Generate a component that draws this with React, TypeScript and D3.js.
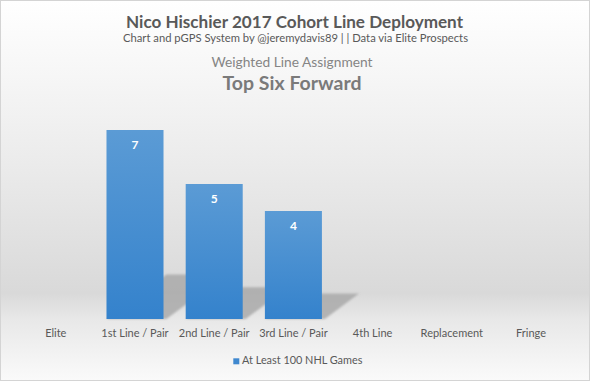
import React from "react";
import * as d3 from "d3";

const categories = ["Elite", "1st Line / Pair", "2nd Line / Pair", "3rd Line / Pair", "4th Line", "Replacement", "Fringe"];
const values = [0, 7, 5, 4, 0, 0, 0];
const seriesName = "At Least 100 NHL Games";
const title = "Nico Hischier 2017 Cohort Line Deployment";
const subtitle = "Chart and pGPS System by @jeremydavis89 | | Data via Elite Prospects";
const axisTitle = "Weighted Line Assignment";
const playerType = "Top Six Forward";

const W = 590;
const H = 381;
const FONT = "Lato, 'Open Sans', 'DejaVu Sans', sans-serif";

export default function App() {
  const x = d3.scaleBand<string>().domain(categories).range([16.2, 570.6]).paddingInner(0.28).paddingOuter(0.14);
  const y = d3.scaleLinear().domain([0, 7]).range([319, 130]);
  const bw = x.bandwidth();
  const base = y(0);

  const shadowPath = (cat: string, v: number) => {
    const x0 = x(cat)!;
    const h = base - y(v);
    const sh = h * 0.235;
    const dx = sh * 1.35;
    const sw = bw * 1.05;
    const p = d3.path();
    p.moveTo(x0, base);
    p.lineTo(x0 + sw, base);
    p.lineTo(x0 + dx + sw, base - sh);
    p.lineTo(x0 + dx, base - sh);
    p.closePath();
    return p.toString();
  };

  return (
    <svg width={W} height={H} style={{ position: "fixed", left: 0, top: 0, display: "block" }} fontFamily={FONT}>
      <defs>
        <linearGradient id="bg" x1="0" y1="0" x2="0" y2="1">
          <stop offset="0" stopColor="#ffffff" />
          <stop offset="0.2" stopColor="#f6f6f6" />
          <stop offset="0.45" stopColor="#eaeaea" />
          <stop offset="0.77" stopColor="#d9d9d9" />
          <stop offset="0.84" stopColor="#e8e8e8" />
          <stop offset="1" stopColor="#fafafa" />
        </linearGradient>
        <linearGradient id="bar" x1="0" y1="0" x2="0" y2="1">
          <stop offset="0" stopColor="#5b9bd5" />
          <stop offset="1" stopColor="#3482cc" />
        </linearGradient>
        <filter id="blur" x="-20%" y="-20%" width="140%" height="140%">
          <feGaussianBlur stdDeviation="1.2" />
        </filter>
      </defs>
      <rect x={0.5} y={0.5} width={W - 1} height={H - 1} fill="url(#bg)" stroke="#d4d4d4" />

      <text x={294.5} y={27.7} textAnchor="middle" fontSize={17} fontWeight="bold" fill="#595959" textLength={337} lengthAdjust="spacingAndGlyphs">{title}</text>
      <text x={295.5} y={42.3} textAnchor="middle" fontSize={10.5} fill="#595959" textLength={345} lengthAdjust="spacingAndGlyphs">{subtitle}</text>
      <text x={292} y={67.3} textAnchor="middle" fontSize={12.5} fill="#858585" textLength={161} lengthAdjust="spacingAndGlyphs">{axisTitle}</text>
      <text x={292} y={90} textAnchor="middle" fontSize={18} fontWeight="bold" fill="#7a7a7a" textLength={139} lengthAdjust="spacingAndGlyphs">{playerType}</text>

      <g filter="url(#blur)">
        {categories.map((c, i) =>
          values[i] > 0 ? <path key={c} d={shadowPath(c, values[i])} fill="#a6a6a6" opacity={0.8} /> : null
        )}
      </g>

      {categories.map((c, i) =>
        values[i] > 0 ? (
          <g key={c}>
            <rect x={x(c)} y={y(values[i])} width={bw} height={base - y(values[i])} fill="url(#bar)" />
            <text x={x(c)! + bw / 2} y={y(values[i]) + 19} textAnchor="middle" fontSize={12} fontWeight="bold" fill="#ffffff">{values[i]}</text>
          </g>
        ) : null
      )}

      {categories.map((c) => (
        <text key={c} x={x(c)! + bw / 2} y={336.7} textAnchor="middle" fontSize={11} fill="#595959">{c}</text>
      ))}

      <rect x={233.3} y={358.3} width={6} height={6} fill="#3f88cf" />
      <text x={242} y={364} fontSize={10.5} fill="#595959" textLength={120.4} lengthAdjust="spacingAndGlyphs">{seriesName}</text>
    </svg>
  );
}
